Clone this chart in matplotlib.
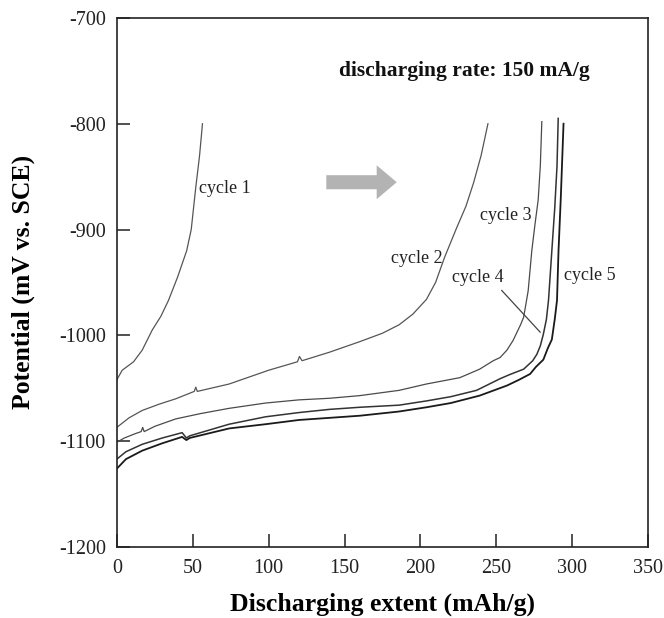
import numpy as np
import matplotlib
matplotlib.use('Agg')
import matplotlib.pyplot as plt
from matplotlib.patches import FancyArrow

plt.rcParams['font.family'] = ['Liberation Serif', 'DejaVu Serif']
plt.rcParams['axes.unicode_minus'] = False

# discharge curves, potential (mV vs. SCE) against capacity (mAh/g)
c1_x = [0, 3.5, 11, 16.7, 23.3, 29, 34, 40, 46, 49, 52, 54.5, 56.4]
c1_y = [-1042, -1033, -1025, -1014, -995, -982, -967, -945, -920, -900, -860, -830, -800]

c2_x = [0, 8, 16.7, 28, 38.8, 51, 52, 53, 74, 100, 119, 120.3, 122, 140, 160, 175, 186,
        195, 204, 210, 216, 224, 230, 235, 240, 244.5]
c2_y = [-1087, -1078, -1071, -1065, -1060, -1053, -1049, -1053, -1046, -1033, -1025, -1020, -1024,
        -1016, -1006, -998, -990, -980, -966, -950, -926, -898, -878, -856, -830, -800]

c3_x = [0, 5, 12, 16, 17, 18, 25, 38.8, 55, 74, 98, 120, 140, 160, 186, 204, 226, 239,
        248, 252.5, 257, 261, 266, 268, 271, 273.4, 275.5, 277.6, 279, 280]
c3_y = [-1101, -1097, -1093, -1091, -1087, -1091, -1086, -1079, -1074, -1069, -1064, -1061,
        -1059.5, -1057, -1052, -1046, -1040, -1032, -1024, -1021, -1014, -1005, -990, -983,
        -958, -920, -895, -872, -840, -798]

c4_x = [0, 6, 16.7, 30, 43, 45.8, 48, 74, 98, 120, 140, 160, 186, 204, 220, 237, 252.5,
        259, 268, 274, 276.7, 279, 281, 283, 284.4, 286.6, 288.5, 290, 290.8]
c4_y = [-1117, -1110, -1103, -1097, -1092, -1097, -1095, -1084, -1077, -1073, -1070, -1068,
        -1066, -1062, -1058, -1052, -1041, -1037, -1032, -1024, -1018, -1010, -999, -985,
        -967, -920, -880, -840, -795]

c5_x = [0, 6, 16.7, 30, 43, 45.8, 48, 74, 98, 120, 140, 160, 186, 204, 220, 239, 257,
        265, 272.3, 276, 281, 284, 286.6, 288.5, 290, 291, 292.5, 294.3]
c5_y = [-1126, -1117, -1109, -1102, -1096, -1099, -1097, -1088, -1084, -1080, -1078, -1076,
        -1072, -1068, -1064, -1057, -1047.5, -1042, -1036.5, -1030, -1023, -1012, -1004,
        -985, -967, -920, -870, -800]

curves = [(c1_x, c1_y, '#555555', 0.9), (c2_x, c2_y, '#555555', 0.9),
          (c3_x, c3_y, '#4a4a4a', 0.9), (c4_x, c4_y, '#333333', 1.1),
          (c5_x, c5_y, '#1a1a1a', 1.3)]

labels = ['cycle 1', 'cycle 2', 'cycle 3', 'cycle 4', 'cycle 5']
label_x = [71.4, 197.6, 256.4, 238, 311.3]
label_y = [-861, -927.3, -886.6, -945.3, -943.4]

fig = plt.figure(figsize=(6.64, 6.18), dpi=100)
ax = fig.add_axes([0.176, 0.115, 0.8, 0.856])

for x, y, col, lw in curves:
    ax.plot(x, y, color=col, lw=lw)

for t, lx, ly in zip(labels, label_x, label_y):
    ax.text(lx, ly, t, fontsize=13, ha='center', va='center', color='#222222')

# leader from the cycle 4 label to its curve
ax.plot([253.6, 278.9], [-957.6, -997], color='#444444', lw=0.9)

ax.add_patch(FancyArrow(138, -855.3, 46.4, 0, width=13.3, head_width=32, head_length=13.2,
                        length_includes_head=True, color='#b3b3b3', lw=0))

ax.text(229, -750, 'discharging rate: 150 mA/g', fontsize=15.5, fontweight='bold',
        ha='center', va='center', color='#111111')

ax.set_xlim(0, 350)
ax.set_ylim(-1200, -700)
ax.set_xticks(np.arange(0, 351, 50))
ax.set_yticks(np.arange(-1200, -699, 100))
ax.tick_params(direction='in', length=9.5, width=1.1, labelsize=14.5, color='#222222',
               labelcolor='#222222')
ax.tick_params(axis='x', pad=9)
ax.tick_params(axis='y', pad=8)
for s in ax.spines.values():
    s.set_linewidth(1.2)
    s.set_color('#222222')

ax.set_xlabel('Discharging extent (mAh/g)', fontsize=18.5, fontweight='bold', labelpad=10)
ax.set_ylabel('Potential (mV vs. SCE)', fontsize=18.5, fontweight='bold', labelpad=17)

fig.savefig('out.png', dpi=100)
